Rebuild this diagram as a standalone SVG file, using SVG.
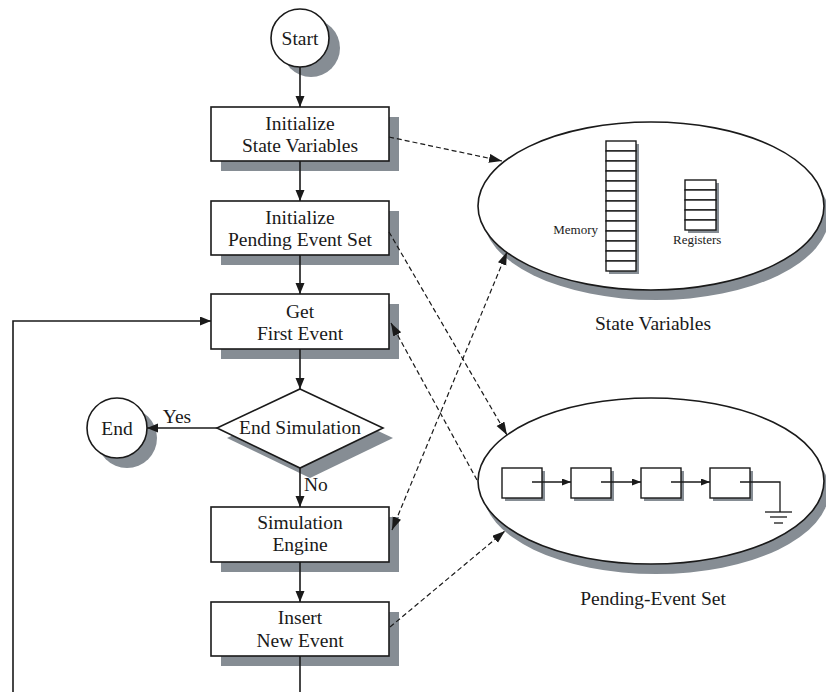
<svg xmlns="http://www.w3.org/2000/svg" width="826" height="692" viewBox="0 0 826 692">
  <style>
    .shadow { fill: #868d94; stroke: none; }
    .shape { fill: #ffffff; stroke: #1a1a1a; stroke-width: 1.6; }
    .cell { fill: #ffffff; stroke: #1a1a1a; stroke-width: 1.4; }
    text { font-family: 'Liberation Serif', 'Times New Roman', 'DejaVu Serif', serif; fill: #1a1a1a; }
    .lbl { font-size: 19.5px; text-anchor: middle; }
    .small { font-size: 13px; }
    .flow { fill: none; stroke: #1a1a1a; stroke-width: 1.6; }
    .dash { fill: none; stroke: #1a1a1a; stroke-width: 1.2; stroke-dasharray: 5 3; }
    .wire { fill: none; stroke: #1a1a1a; stroke-width: 1.3; }
  </style>
  <defs>
    <marker id="arrow" markerUnits="userSpaceOnUse" markerWidth="12" markerHeight="10" refX="11" refY="4.5" orient="auto-start-reverse">
      <path d="M0,0 L11,4.5 L0,9 z" fill="#1a1a1a"/>
    </marker>
    <marker id="dart" markerUnits="userSpaceOnUse" markerWidth="14" markerHeight="10" refX="13" refY="4.5" orient="auto-start-reverse">
      <path d="M0,0 L13,4.5 L0,9 z" fill="#1a1a1a"/>
    </marker>
    <marker id="small-arrow" markerUnits="userSpaceOnUse" markerWidth="10" markerHeight="8" refX="9" refY="3.5" orient="auto">
      <path d="M0,0 L9,3.5 L0,7 z" fill="#1a1a1a"/>
    </marker>
  </defs>

  <g id="start">
    <circle class="shadow" cx="311" cy="48" r="29"/>
    <circle class="shape" cx="300" cy="38" r="29"/>
    <text class="lbl" x="300" y="45">Start</text>
  </g>

  <g id="init-state">
    <rect class="shadow" x="221" y="117" width="178" height="54"/>
    <rect class="shape" x="211" y="107" width="178" height="54"/>
    <text class="lbl" x="300" y="130">Initialize</text>
    <text class="lbl" x="300" y="152">State Variables</text>
  </g>

  <g id="init-pending">
    <rect class="shadow" x="221" y="211" width="178" height="54"/>
    <rect class="shape" x="211" y="201" width="178" height="54"/>
    <text class="lbl" x="300" y="224">Initialize</text>
    <text class="lbl" x="300" y="246">Pending Event Set</text>
  </g>

  <g id="get-first">
    <rect class="shadow" x="221" y="304" width="178" height="55"/>
    <rect class="shape" x="211" y="294" width="178" height="55"/>
    <text class="lbl" x="300" y="318">Get</text>
    <text class="lbl" x="300" y="340">First Event</text>
  </g>

  <g id="end-test">
    <polygon class="shadow" points="310,399 393,438 310,478 227,438"/>
    <polygon class="shape" points="300,389 383,428 300,468 217,428"/>
    <text class="lbl" x="300" y="434">End Simulation</text>
  </g>

  <g id="end">
    <circle class="shadow" cx="127" cy="438" r="30"/>
    <circle class="shape" cx="117" cy="428" r="30"/>
    <text class="lbl" x="117" y="435">End</text>
  </g>

  <g id="engine">
    <rect class="shadow" x="221" y="517" width="178" height="55"/>
    <rect class="shape" x="211" y="507" width="178" height="55"/>
    <text class="lbl" x="300" y="529">Simulation</text>
    <text class="lbl" x="300" y="551">Engine</text>
  </g>

  <g id="insert">
    <rect class="shadow" x="221" y="612" width="178" height="54"/>
    <rect class="shape" x="211" y="602" width="178" height="54"/>
    <text class="lbl" x="300" y="624">Insert</text>
    <text class="lbl" x="300" y="647">New Event</text>
  </g>

  <g id="state-variables">
    <ellipse class="shadow" cx="656" cy="216" rx="173" ry="84"/>
    <ellipse class="shape" cx="651" cy="206" rx="173" ry="84"/>
    <!-- memory column -->
    <rect class="shadow" x="609" y="144" width="30" height="130"/>
    <g class="cell">
      <rect x="606" y="141" width="30" height="10"/>
      <rect x="606" y="151" width="30" height="10"/>
      <rect x="606" y="161" width="30" height="10"/>
      <rect x="606" y="171" width="30" height="10"/>
      <rect x="606" y="181" width="30" height="10"/>
      <rect x="606" y="191" width="30" height="10"/>
      <rect x="606" y="201" width="30" height="10"/>
      <rect x="606" y="211" width="30" height="10"/>
      <rect x="606" y="221" width="30" height="10"/>
      <rect x="606" y="231" width="30" height="10"/>
      <rect x="606" y="241" width="30" height="10"/>
      <rect x="606" y="251" width="30" height="10"/>
      <rect x="606" y="261" width="30" height="10"/>
    </g>
    <!-- register file -->
    <rect class="shadow" x="688" y="183" width="31" height="50"/>
    <g class="cell">
      <rect x="685" y="180" width="31" height="10"/>
      <rect x="685" y="190" width="31" height="10"/>
      <rect x="685" y="200" width="31" height="10"/>
      <rect x="685" y="210" width="31" height="10"/>
      <rect x="685" y="220" width="31" height="10"/>
    </g>
    <text class="small" x="598" y="234" text-anchor="end">Memory</text>
    <text class="small" x="673" y="244">Registers</text>
    <text class="lbl" x="653" y="330">State Variables</text>
  </g>

  <g id="pending-event-set">
    <ellipse class="shadow" cx="656" cy="491" rx="173" ry="83"/>
    <ellipse class="shape" cx="651" cy="481" rx="173" ry="83"/>
    <g>
      <rect class="shadow" x="505" y="471" width="40" height="30"/>
      <rect class="shadow" x="574" y="471" width="40" height="30"/>
      <rect class="shadow" x="644" y="471" width="40" height="30"/>
      <rect class="shadow" x="713" y="471" width="40" height="30"/>
      <rect class="cell" x="502" y="468" width="40" height="30"/>
      <rect class="cell" x="571" y="468" width="40" height="30"/>
      <rect class="cell" x="641" y="468" width="40" height="30"/>
      <rect class="cell" x="710" y="468" width="40" height="30"/>
    </g>
    <line class="wire" x1="532" y1="482" x2="571" y2="482" marker-end="url(#small-arrow)"/>
    <line class="wire" x1="601" y1="482" x2="641" y2="482" marker-end="url(#small-arrow)"/>
    <line class="wire" x1="671" y1="482" x2="710" y2="482" marker-end="url(#small-arrow)"/>
    <polyline class="wire" points="740,482 780,482 780,512"/>
    <line class="wire" x1="765" y1="512" x2="792" y2="512"/>
    <line class="wire" x1="770" y1="517" x2="787" y2="517"/>
    <line class="wire" x1="774" y1="523" x2="783" y2="523"/>
    <text class="lbl" x="653" y="605">Pending-Event Set</text>
  </g>

  <!-- flow and data connectors, drawn over the node shadows -->
  <g id="connectors">
    <line class="flow" x1="300" y1="67" x2="300" y2="107" marker-end="url(#arrow)"/>
    <line class="flow" x1="300" y1="161" x2="300" y2="201" marker-end="url(#arrow)"/>
    <line class="flow" x1="300" y1="255" x2="300" y2="294" marker-end="url(#arrow)"/>
    <line class="flow" x1="300" y1="349" x2="300" y2="389" marker-end="url(#arrow)"/>
    <line class="flow" x1="300" y1="468" x2="300" y2="507" marker-end="url(#arrow)"/>
    <line class="flow" x1="300" y1="562" x2="300" y2="602" marker-end="url(#arrow)"/>
    <line class="flow" x1="300" y1="656" x2="300" y2="692"/>
    <line class="flow" x1="217" y1="428" x2="147" y2="428" marker-end="url(#arrow)"/>
    <polyline class="flow" points="13,692 13,321 211,321" marker-end="url(#arrow)"/>

    <line class="dash" x1="389" y1="137" x2="502" y2="161" marker-end="url(#dart)"/>
    <line class="dash" x1="389" y1="232" x2="507" y2="435" marker-end="url(#dart)"/>
    <line class="dash" x1="392" y1="530" x2="507" y2="252" marker-start="url(#dart)" marker-end="url(#dart)"/>
    <line class="dash" x1="477" y1="480" x2="391" y2="323" marker-end="url(#dart)"/>
    <line class="dash" x1="390" y1="627" x2="505" y2="531" marker-end="url(#dart)"/>

    <text class="lbl" x="177" y="423">Yes</text>
    <text class="lbl" x="304" y="491" style="text-anchor:start">No</text>
  </g>
</svg>
